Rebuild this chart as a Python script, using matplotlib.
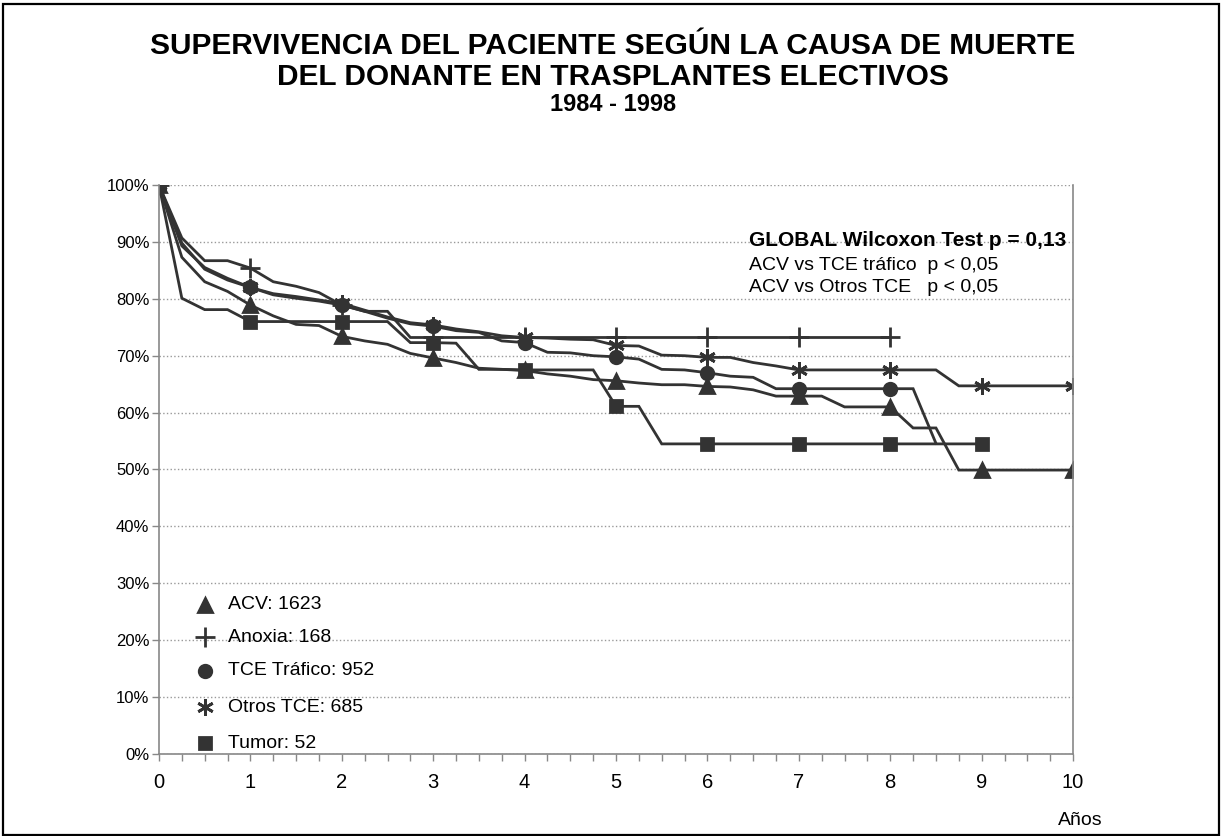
import numpy as np
import matplotlib.pyplot as plt
from matplotlib.patches import Rectangle
from matplotlib.ticker import MultipleLocator

plt.rcParams['font.family'] = ['Liberation Sans', 'DejaVu Sans']

# quarterly follow-up points (years)
years = np.arange(0, 10.25, 0.25)

# survival (%) read at every quarter
acv = [100, 87.3, 83.0, 81.3, 78.9, 77.0, 75.5, 75.3, 73.4, 72.6, 72.0, 70.4, 69.6,
       68.8, 67.8, 67.6, 67.4, 66.8, 66.4, 65.8, 65.6, 65.2, 64.9, 64.9, 64.6, 64.5,
       64.0, 62.9, 62.9, 62.9, 61.0, 61.0, 61.0, 57.3, 57.3, 49.9, 49.9, 49.9, 49.9,
       49.9, 49.9]
anoxia = [100, 90.7, 86.7, 86.7, 85.4, 83.0, 82.2, 81.1, 78.9, 77.8, 77.8, 73.2, 73.2,
          73.2, 73.2, 73.2, 73.2, 73.2, 73.2, 73.2, 73.2, 73.2, 73.2, 73.2, 73.2, 73.2,
          73.2, 73.2, 73.2, 73.2, 73.2, 73.2, 73.2]
tce = [100, 89.3, 85.5, 83.6, 82.0, 80.7, 80.1, 79.6, 78.9, 77.8, 76.6, 75.6, 75.2,
       74.4, 74.1, 72.6, 72.3, 70.6, 70.5, 70.0, 69.8, 69.4, 67.6, 67.5, 67.0, 66.4,
       66.2, 64.2, 64.2, 64.2, 64.2, 64.2, 64.2, 64.2, 54.6]
otros = [100, 89.8, 85.2, 83.3, 82.0, 80.9, 80.4, 79.8, 79.2, 78.0, 76.8, 75.8, 75.4,
         74.7, 74.2, 73.5, 73.2, 73.1, 72.9, 72.8, 71.8, 71.7, 70.1, 70.0, 69.7, 69.7,
         68.8, 68.2, 67.5, 67.5, 67.5, 67.5, 67.5, 67.5, 67.5, 64.7, 64.7, 64.7, 64.7,
         64.7, 64.7]
tumor = [100, 80.1, 78.1, 78.1, 76.0, 76.0, 76.0, 76.0, 76.0, 76.0, 76.0, 72.3, 72.3,
         72.2, 67.6, 67.6, 67.5, 67.5, 67.5, 67.5, 61.1, 61.1, 54.5, 54.5, 54.5, 54.5,
         54.5, 54.5, 54.5, 54.5, 54.5, 54.5, 54.5, 54.5, 54.5, 54.5, 54.5]

labels = ['ACV: 1623', 'Anoxia: 168', 'TCE Tráfico: 952', 'Otros TCE: 685', 'Tumor: 52']
series = [acv, anoxia, tce, otros, tumor]
markers = ['^', '+', 'o', (6, 2, 0), 's']
msizes = [10, 14, 9, 12, 9]

col = '#333333'

fig = plt.figure(figsize=(12.23, 8.36), dpi=100)
ax = fig.add_axes([0.130, 0.0981, 0.7474, 0.6806])

for vals, m, ms in zip(series, markers, msizes):
    ax.plot(years[:len(vals)], vals, color=col, lw=2, marker=m, ms=ms, mew=2,
            markevery=4, solid_joinstyle='miter')

ax.set_xlim(0, 10)
ax.set_ylim(0, 100)
ax.xaxis.set_major_locator(MultipleLocator(1))
ax.xaxis.set_minor_locator(MultipleLocator(0.25))
ax.yaxis.set_major_locator(MultipleLocator(10))
ax.set_yticklabels([f'{int(v)}%' for v in ax.get_yticks()])
ax.tick_params(axis='both', colors='#888888', labelcolor='black', length=5, width=1)
ax.tick_params(axis='y', labelsize=12, pad=2)
ax.tick_params(axis='x', labelsize=14.5, pad=9)
ax.tick_params(axis='x', which='minor', length=5, width=1, colors='#888888')
ax.grid(axis='y', color='#999999', linestyle=':', linewidth=1)
for s in ['left', 'bottom', 'right']:
    ax.spines[s].set_color('#888888')
    ax.spines[s].set_linewidth(1.2)
ax.spines['top'].set_visible(False)

# legend drawn by hand
leg_y = [0.262, 0.205, 0.146, 0.082, 0.019]
for lab, m, ms, y in zip(labels, markers, msizes, leg_y):
    ax.plot([0.0503], [y], marker=m, ms=ms, mew=2, color=col,
            transform=ax.transAxes, clip_on=False)
    ax.text(0.0755, y, lab, transform=ax.transAxes, fontsize=14, va='center')

# test annotation
ax.text(0.6455, 0.9016, 'GLOBAL Wilcoxon Test p = 0,13', transform=ax.transAxes,
        fontsize=15, fontweight='bold', va='center')
ax.text(0.6455, 0.859, 'ACV vs TCE tráfico  p < 0,05', transform=ax.transAxes,
        fontsize=14, va='center')
ax.text(0.6455, 0.819, 'ACV vs Otros TCE   p < 0,05', transform=ax.transAxes,
        fontsize=14, va='center')

fig.text(0.883, 0.019, 'Años', fontsize=14, ha='center', va='center')

fig.text(0.501, 0.9445, 'SUPERVIVENCIA DEL PACIENTE SEGÚN LA CAUSA DE MUERTE',
         fontsize=21.5, fontweight='bold', ha='center', va='center')
fig.text(0.501, 0.9075, 'DEL DONANTE EN TRASPLANTES ELECTIVOS',
         fontsize=21.5, fontweight='bold', ha='center', va='center')
fig.text(0.501, 0.8745, '1984 - 1998', fontsize=17, fontweight='bold',
         ha='center', va='center')

fig.patches.append(Rectangle((0.0025, 0.001), 0.9945, 0.9942, transform=fig.transFigure,
                             fill=False, edgecolor='black', linewidth=1.6))

fig.savefig('out.png', dpi=100)
